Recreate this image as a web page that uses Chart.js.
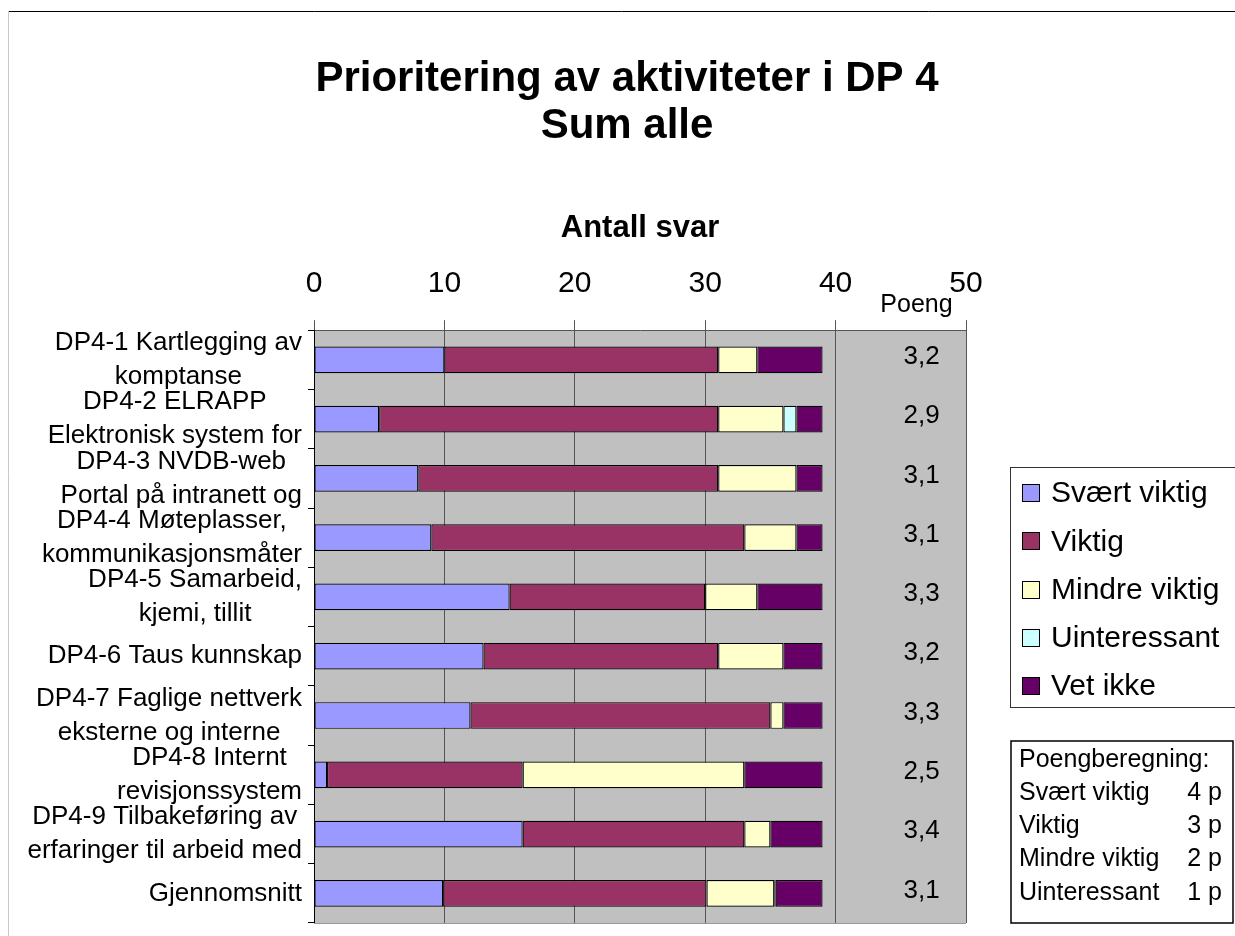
<!DOCTYPE html>
<html>
<head>
<meta charset="utf-8">
<script src="https://cdn.jsdelivr.net/npm/chart.js@4/dist/chart.umd.min.js"></script>
<style>
  html, body { margin: 0; padding: 0; background: #fff; }
  #c { display: block; }
</style>
</head>
<body>
<canvas id="c" width="1235" height="936"></canvas>
<script>
// categories (wrapped as in the original sheet)
const categories = [
    ['DP4-1 Kartlegging av', 'komptanse'],
    ['DP4-2 ELRAPP', 'Elektronisk system for'],
    ['DP4-3 NVDB-web', 'Portal på intranett og'],
    ['DP4-4 Møteplasser,', 'kommunikasjonsmåter'],
    ['DP4-5 Samarbeid,', 'kjemi, tillit'],
    ['DP4-6 Taus kunnskap'],
    ['DP4-7 Faglige nettverk', 'eksterne og interne'],
    ['DP4-8 Internt', 'revisjonssystem'],
    ['DP4-9 Tilbakeføring av', 'erfaringer til arbeid med'],
    ['Gjennomsnitt']
];

// antall svar per kategori
const svaertViktig = [10, 5, 8, 9, 15, 13, 12, 1, 16, 9.9];
const viktig       = [21, 26, 23, 24, 15, 18, 23, 15, 17, 20.2];
const mindreViktig = [3, 5, 6, 4, 4, 5, 1, 17, 2, 5.2];
const uinteressant = [0, 1, 0, 0, 0, 0, 0, 0, 0, 0.1];
const vetIkke      = [5, 2, 2, 2, 5, 3, 3, 6, 4, 3.6];

const poeng = ['3,2', '2,9', '3,1', '3,1', '3,3', '3,2', '3,3', '2,5', '3,4', '3,1'];

const xTicks = [0, 10, 20, 30, 40, 50];

const poengRows = [
    ['Svært viktig', '4 p'],
    ['Viktig', '3 p'],
    ['Mindre viktig', '2 p'],
    ['Uinteressant', '1 p']
];

const FONT = '"Liberation Sans", Arial, sans-serif';

let makeSet = (label, data, color) => ({
    label: label,
    data: data,
    backgroundColor: color,
    borderColor: '#000',
    borderWidth: 1.2,
    borderSkipped: false,
    barPercentage: 0.45,
    categoryPercentage: 1
});

const extras = {
    id: 'extras',
    beforeDraw(chart) {
        const {ctx, chartArea: a} = chart;
        ctx.save();
        ctx.fillStyle = '#c0c0c0';
        ctx.fillRect(a.left, a.top, a.right - a.left, a.bottom - a.top);
        // outer frame
        ctx.lineWidth = 1;
        ctx.strokeStyle = '#000';
        ctx.beginPath();
        ctx.moveTo(8, 11.5);
        ctx.lineTo(1235, 11.5);
        ctx.stroke();
        ctx.strokeStyle = '#c8c8c8';
        ctx.beginPath();
        ctx.moveTo(8.5, 11);
        ctx.lineTo(8.5, 936);
        ctx.stroke();
        ctx.restore();
    },
    afterDraw(chart) {
        const {ctx, chartArea: a} = chart;
        const x = chart.scales.x;
        const y = chart.scales.y;
        ctx.save();

        // plot bottom edge
        ctx.strokeStyle = '#999';
        ctx.lineWidth = 1;
        ctx.beginPath();
        ctx.moveTo(a.left, Math.round(a.bottom) + 0.5);
        ctx.lineTo(a.right, Math.round(a.bottom) + 0.5);
        ctx.stroke();

        // category labels: lines centred in a right-aligned block
        ctx.fillStyle = '#000';
        ctx.font = '26px ' + FONT;
        ctx.textBaseline = 'middle';
        ctx.textAlign = 'center';
        chart.data.labels.forEach((lines, i) => {
            const cy = y.getPixelForValue(i);
            const widest = Math.max(...lines.map(l => ctx.measureText(l).width));
            const cx = 302 - widest / 2;
            const lh = 34;
            lines.forEach((l, j) => {
                ctx.fillText(l, cx, cy + (j - (lines.length - 1) / 2) * lh);
            });
        });

        // poeng column
        ctx.font = '25px ' + FONT;
        ctx.fillText('Poeng', x.getPixelForValue(46.2), 305);
        ctx.font = '26px ' + FONT;
        poeng.forEach((p, i) => {
            ctx.fillText(p, x.getPixelForValue(46.6), y.getPixelForValue(i) - 3);
        });

        // legend
        ctx.strokeStyle = '#333';
        ctx.strokeRect(1010.5, 467.5, 240, 240);
        ctx.textAlign = 'left';
        ctx.font = '30px ' + FONT;
        chart.data.datasets.forEach((ds, i) => {
            const ly = 493 + i * 48.3;
            ctx.fillStyle = ds.backgroundColor;
            ctx.fillRect(1022, Math.round(ly - 9), 18, 18);
            ctx.strokeStyle = '#000';
            ctx.strokeRect(1022.5, Math.round(ly - 9) + 0.5, 17, 17);
            ctx.fillStyle = '#000';
            ctx.fillText(ds.label, 1051, ly + 1);
        });

        // poengberegning box
        ctx.lineWidth = 1.5;
        ctx.strokeStyle = '#000';
        ctx.strokeRect(1011, 741, 222, 182);
        ctx.font = '25px ' + FONT;
        ctx.fillText('Poengberegning:', 1019, 760);
        poengRows.forEach((r, i) => {
            const ry = 793 + i * 33.3;
            ctx.textAlign = 'left';
            ctx.fillText(r[0], 1019, ry);
            ctx.textAlign = 'right';
            ctx.fillText(r[1], 1222, ry);
        });
        ctx.restore();
    }
};

new Chart(document.getElementById('c'), {
    type: 'bar',
    data: {
        labels: categories,
        datasets: [
            makeSet('Svært viktig', svaertViktig, '#9999ff'),
            makeSet('Viktig', viktig, '#993366'),
            makeSet('Mindre viktig', mindreViktig, '#ffffcc'),
            makeSet('Uinteressant', uinteressant, '#ccffff'),
            makeSet('Vet ikke', vetIkke, '#660066')
        ]
    },
    options: {
        indexAxis: 'y',
        responsive: false,
        animation: false,
        devicePixelRatio: 1,
        layout: {
            padding: {left: 288, right: 269, top: 46, bottom: 13}
        },
        scales: {
            x: {
                position: 'top',
                stacked: true,
                min: 0,
                max: 50,
                afterBuildTicks: (scale) => {
                    scale.ticks = xTicks.map(v => ({value: v}));
                },
                afterFit: (scale) => {
                    scale.paddingLeft = 0;
                    scale.paddingRight = 0;
                },
                ticks: {
                    color: '#000',
                    padding: 18,
                    maxRotation: 0,
                    font: {family: FONT, size: 30}
                },
                grid: {
                    color: '#555',
                    tickLength: 10,
                    drawTicks: true
                },
                border: {display: true, color: '#555'},
                title: {
                    display: true,
                    text: 'Antall svar',
                    color: '#000',
                    font: {family: FONT, size: 31, weight: 'bold', lineHeight: 1.2},
                    padding: {top: 0, bottom: 1.5}
                }
            },
            y: {
                stacked: true,
                afterFit: (scale) => {
                    scale.width = 26;
                },
                ticks: {display: false},
                grid: {
                    offset: true,
                    drawOnChartArea: false,
                    drawTicks: true,
                    tickLength: 6,
                    color: '#000'
                },
                border: {display: true, color: '#000'}
            }
        },
        plugins: {
            legend: {display: false},
            tooltip: {enabled: false},
            title: {
                display: true,
                text: ['Prioritering av aktiviteter i DP 4', 'Sum alle'],
                color: '#000',
                font: {family: FONT, size: 42, weight: 'bold', lineHeight: 1.12},
                padding: {top: 10, bottom: 59.4}
            }
        }
    },
    plugins: [extras]
});
</script>
</body>
</html>
